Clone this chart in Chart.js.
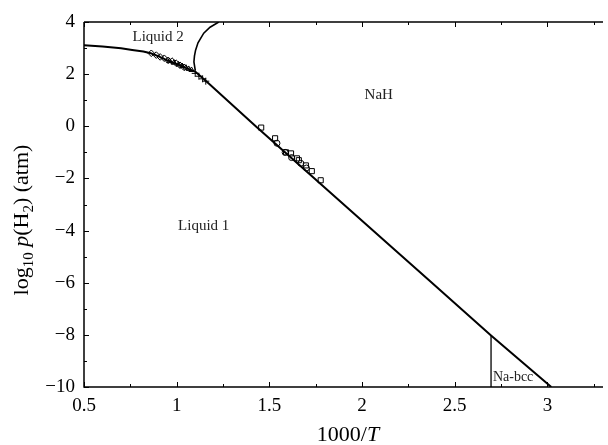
<!DOCTYPE html>
<html><head><meta charset="utf-8">
<script src="https://cdn.jsdelivr.net/npm/chart.js@4.4.1/dist/chart.umd.min.js"></script>
<style>html,body{margin:0;padding:0;background:#fff}#wrap{width:608px;height:445px}</style>
</head><body><div id="wrap"><canvas id="c" width="608" height="445"></canvas></div>
<script>
// ---- data ----
const boundaryX = [0.5, 0.6, 0.7, 0.76, 0.82, 0.86, 0.9, 0.95, 1.0, 1.05, 1.1, 1.173, 1.431, 2.135, 2.357, 2.696, 3.021];
const boundaryY = [3.11, 3.06, 2.99, 2.93, 2.87, 2.80, 2.69, 2.53, 2.39, 2.24, 2.10, 1.64, -0.03, -4.48, -5.88, -8.02, -10];
const liquid2X = [1.10, 1.093, 1.096, 1.102, 1.115, 1.146, 1.18, 1.227];
const liquid2Y = [2.15, 2.47, 2.70, 2.92, 3.20, 3.57, 3.80, 4.0];
const bccX = [2.696, 2.696];
const bccY = [-10, -8.02];
const diamondX = [0.863, 0.890, 0.911, 0.933, 0.954, 0.975, 0.997, 1.018, 1.040];
const diamondY = [2.80, 2.73, 2.66, 2.61, 2.53, 2.50, 2.42, 2.34, 2.26];
const triangleX = [0.96, 0.985, 1.01, 1.03, 1.05, 1.065, 1.08];
const triangleY = [2.50, 2.44, 2.37, 2.31, 2.25, 2.20, 2.16];
const plusX = [1.10, 1.12, 1.14, 1.157];
const plusY = [2.03, 1.92, 1.82, 1.73];
const squareX = [1.456, 1.531, 1.59, 1.617, 1.649, 1.659, 1.697, 1.729, 1.777];
const squareY = [-0.05, -0.46, -1.0, -1.04, -1.23, -1.30, -1.50, -1.72, -2.07];
const circleX = [1.541, 1.585, 1.62, 1.67, 1.70];
const circleY = [-0.65, -1.0, -1.2, -1.42, -1.6];
const xTicks = [0.5, 1, 1.5, 2, 2.5, 3];
const yTicks = [4, 2, 0, -2, -4, -6, -8, -10];
const labels = [
  {text: 'Liquid 2', x: 0.90, y: 3.42, size: 15},
  {text: 'NaH', x: 2.09, y: 1.19, size: 15},
  {text: 'Liquid 1', x: 1.146, y: -3.84, size: 15},
  {text: 'Na-bcc', x: 2.815, y: -9.62, size: 14}
];

const pts = (xs, ys) => xs.map((x, i) => ({x, y: ys[i]}));
const SERIF = '"Liberation Serif", "DejaVu Serif", serif';

function lineDs(xs, ys, w, ord) {
  return {type: 'scatter', data: pts(xs, ys), showLine: true, borderColor: '#000', borderWidth: w,
    pointRadius: 0, fill: false, tension: 0, order: ord};
}
function markDs(xs, ys, style, r) {
  return {type: 'scatter', data: pts(xs, ys), showLine: false, pointStyle: style, pointRadius: r,
    pointBorderColor: '#000', pointBackgroundColor: 'rgba(255,255,255,0)', pointBorderWidth: 1, order: 1};
}

const deco = {
  id: 'deco',
  afterDraw(chart) {
    const ctx = chart.ctx, xs = chart.scales.x, ys = chart.scales.y, ca = chart.chartArea;
    ctx.save();
    ctx.strokeStyle = '#000';
    ctx.lineWidth = 1.5;
    ctx.beginPath();
    ctx.moveTo(ca.left, ca.top); ctx.lineTo(ca.left, ca.bottom); ctx.lineTo(ca.right, ca.bottom);
    ctx.moveTo(ca.left, ca.top); ctx.lineTo(ca.right, ca.top);
    ctx.stroke();
    ctx.lineWidth = 1;
    ctx.beginPath();
    for (let v = 0.5; v <= 3.3001; v += 0.25) {
      const p = Math.round(xs.getPixelForValue(v)) + 0.5;
      const major = Math.abs(v * 2 - Math.round(v * 2)) < 1e-6;
      const L = major ? 5 : 3;
      ctx.moveTo(p, ca.bottom); ctx.lineTo(p, ca.bottom - L);
      ctx.moveTo(p, ca.top); ctx.lineTo(p, ca.top + L);
    }
    for (let v = -10; v <= 4; v += 1) {
      const p = Math.round(ys.getPixelForValue(v)) + 0.5;
      const L = (v % 2 === 0) ? 5 : 3;
      ctx.moveTo(ca.left, p); ctx.lineTo(ca.left + L, p);
    }
    ctx.stroke();
    ctx.fillStyle = '#222';
    ctx.textAlign = 'center'; ctx.textBaseline = 'middle';
    labels.forEach(l => {
      ctx.font = l.size + 'px ' + SERIF;
      ctx.fillText(l.text, xs.getPixelForValue(l.x), ys.getPixelForValue(l.y));
    });
    ctx.fillStyle = '#000';
    ctx.textBaseline = 'alphabetic';
    const f = 22;
    const parts = [{t: '1000/', font: f + 'px ' + SERIF}, {t: 'T', font: 'italic ' + f + 'px ' + SERIF}];
    let w = 0;
    parts.forEach(p => { ctx.font = p.font; p.w = ctx.measureText(p.t).width; w += p.w; });
    let x0 = 348 - w / 2;
    ctx.textAlign = 'left';
    parts.forEach(p => { ctx.font = p.font; ctx.fillText(p.t, x0, 441); x0 += p.w; });
    ctx.translate(28, 220);
    ctx.rotate(-Math.PI / 2);
    const yp = [
      {t: 'log', font: f + 'px ' + SERIF, dy: 0},
      {t: '10', font: Math.round(f * 0.68) + 'px ' + SERIF, dy: 5},
      {t: ' ', font: f + 'px ' + SERIF, dy: 0},
      {t: 'p', font: 'italic ' + f + 'px ' + SERIF, dy: 0},
      {t: '(H', font: f + 'px ' + SERIF, dy: 0},
      {t: '2', font: Math.round(f * 0.68) + 'px ' + SERIF, dy: 5},
      {t: ') (atm)', font: f + 'px ' + SERIF, dy: 0}
    ];
    w = 0;
    yp.forEach(p => { ctx.font = p.font; p.w = ctx.measureText(p.t).width; w += p.w; });
    x0 = -w / 2;
    yp.forEach(p => { ctx.font = p.font; ctx.fillText(p.t, x0, p.dy); x0 += p.w; });
    ctx.restore();
  }
};

new Chart(document.getElementById('c'), {
  type: 'scatter',
  data: {datasets: [
    lineDs(boundaryX, boundaryY, 2, 5),
    lineDs(liquid2X, liquid2Y, 1.6, 5),
    lineDs(bccX, bccY, 1.3, 5),
    markDs(diamondX, diamondY, 'rectRot', 3.3),
    markDs(triangleX, triangleY, 'triangle', 3),
    markDs(plusX, plusY, 'cross', 3.5),
    markDs(squareX, squareY, 'rect', 3.6),
    markDs(circleX, circleY, 'circle', 3)
  ]},
  plugins: [deco],
  options: {
    responsive: false, animation: false,
    layout: {padding: {top: 22, right: 0, left: 0, bottom: 0}},
    plugins: {legend: {display: false}, tooltip: {enabled: false}},
    scales: {
      x: {type: 'linear', min: 0.5, max: 3.3,
        afterBuildTicks: s => { s.ticks = xTicks.map(v => ({value: v})); },
        afterFit: s => { s.height = 58; },
        grid: {display: false, drawTicks: false}, border: {display: false},
        ticks: {padding: 8, color: '#000', font: {family: SERIF, size: 19}, maxRotation: 0, autoSkip: false,
          callback: v => String(v)}},
      y: {type: 'linear', min: -10, max: 4,
        afterBuildTicks: s => { s.ticks = yTicks.map(v => ({value: v})); },
        afterFit: s => { s.width = 84; },
        grid: {display: false, drawTicks: false}, border: {display: false},
        ticks: {padding: 9, color: '#000', font: {family: SERIF, size: 19}, autoSkip: false,
          callback: v => String(v).replace('-', '\u2212')}}
    }
  }
});
</script></body></html>
